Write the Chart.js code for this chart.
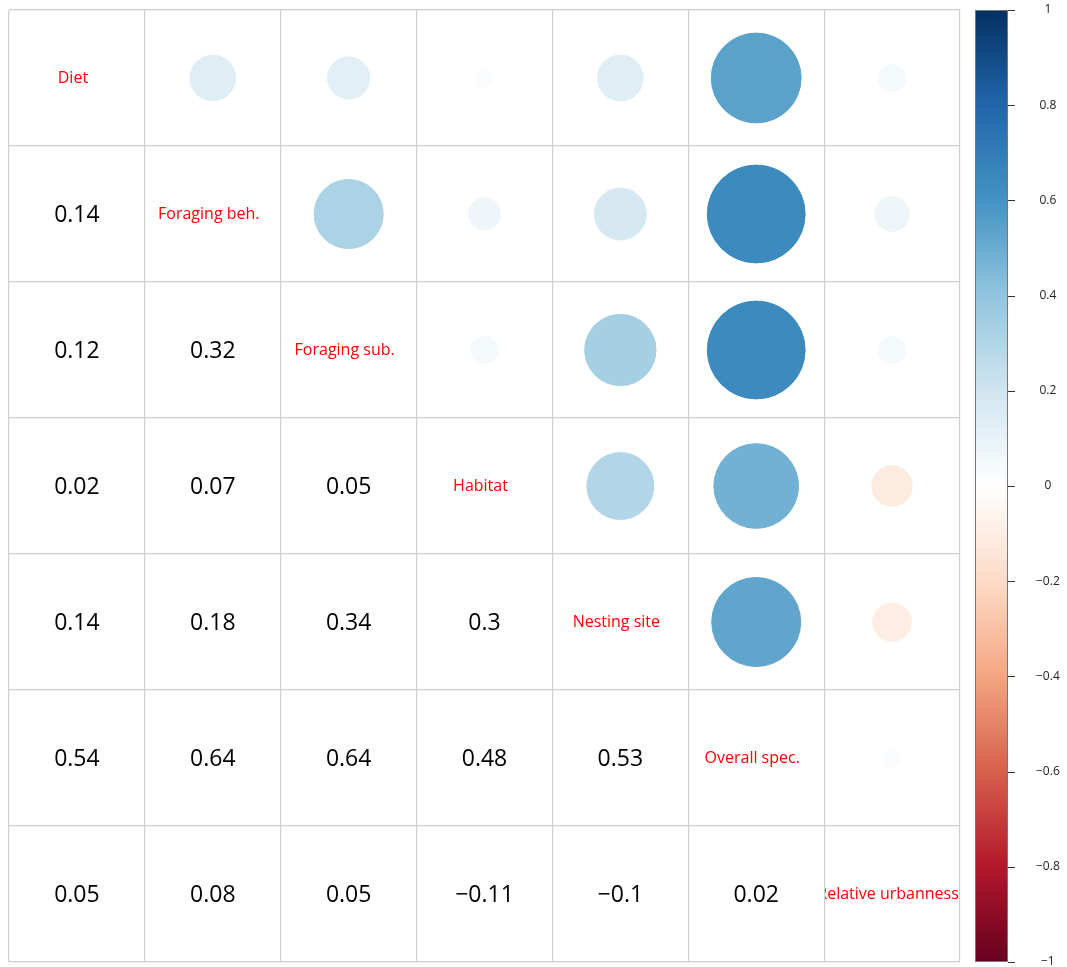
<!DOCTYPE html>
<html>
<head>
<meta charset="utf-8">
<script src="https://cdn.jsdelivr.net/npm/chart.js@4"></script>
<style>
  html, body { margin: 0; padding: 0; background: #fff; }
  #wrap { width: 1067px; height: 967px; position: relative; }
</style>
</head>
<body>
<div id="wrap"><canvas id="corrChart"></canvas></div>
<script>
// Variable names (diagonal)
const labels = ["Diet", "Foraging beh.", "Foraging sub.", "Habitat", "Nesting site", "Overall spec.", "Relative urbanness"];

// Lower triangle of the correlation matrix, row by row
const corrRows = [
  [],
  [0.14],
  [0.12, 0.32],
  [0.02, 0.07, 0.05],
  [0.14, 0.18, 0.34, 0.3],
  [0.54, 0.64, 0.64, 0.48, 0.53],
  [0.05, 0.08, 0.05, -0.11, -0.1, 0.02]
];

// Colour bar
const colorStops = ["#67001F", "#B2182B", "#D6604D", "#F4A582", "#FDDBC7", "#FFFFFF",
                    "#D1E5F0", "#92C5DE", "#4393C3", "#2166AC", "#053061"];
const barTicks = [-1, -0.8, -0.6, -0.4, -0.2, 0, 0.2, 0.4, 0.6, 0.8, 1];

const n = labels.length;

function corr(i, j) {
  if (i === j) return 1;
  return i > j ? corrRows[i][j] : corrRows[j][i];
}

function hexToRgb(h) {
  return [parseInt(h.slice(1, 3), 16), parseInt(h.slice(3, 5), 16), parseInt(h.slice(5, 7), 16)];
}

// interpolate RdBu colour for value in [-1, 1]
function colorFor(v) {
  const pos = (v + 1) / 2 * (colorStops.length - 1);
  const k = Math.min(Math.floor(pos), colorStops.length - 2);
  const t = pos - k;
  const a = hexToRgb(colorStops[k]);
  const b = hexToRgb(colorStops[k + 1]);
  const c = a.map((ch, idx) => Math.round(ch + (b[idx] - ch) * t));
  return `rgb(${c[0]},${c[1]},${c[2]})`;
}

function fmt(v) {
  return String(v).replace("-", "\u2212");
}

// circles for the upper triangle
const circles = [];
for (let i = 0; i < n; i++) {
  for (let j = i + 1; j < n; j++) {
    circles.push({ x: j + 0.5, y: i + 0.5, v: corr(i, j) });
  }
}

// numbers below the diagonal, names on it
const textPlugin = {
  id: "cellText",
  afterDatasetsDraw(chart) {
    const { ctx, scales: { x, y } } = chart;
    ctx.save();
    ctx.textAlign = "center";
    ctx.textBaseline = "middle";
    for (let i = 0; i < n; i++) {
      for (let j = 0; j <= i; j++) {
        const cx = x.getPixelForValue(j + 0.5);
        const cy = y.getPixelForValue(i + 0.5);
        if (i === j) {
          // names are clipped to their own cell, like the long last one
          const x0 = x.getPixelForValue(j), x1 = x.getPixelForValue(j + 1);
          const y0 = y.getPixelForValue(i), y1 = y.getPixelForValue(i + 1);
          ctx.save();
          ctx.beginPath();
          ctx.rect(x0 + 1, y0, x1 - x0 - 2, y1 - y0);
          ctx.clip();
          ctx.fillStyle = "#FF0000";
          ctx.font = "16px 'Open Sans', sans-serif";
          ctx.fillText(labels[i], cx - 4, cy);
          ctx.restore();
        } else {
          ctx.fillStyle = "#000";
          ctx.font = "23px 'Open Sans', sans-serif";
          ctx.fillText(fmt(corr(i, j)), cx, cy + 1);
        }
      }
    }
    ctx.restore();
  }
};

// gradient colour bar on the right
const colorBarPlugin = {
  id: "colorBar",
  afterDraw(chart) {
    const { ctx, chartArea } = chart;
    const s = chart.scales.y2;
    const top = s.getPixelForValue(1);
    const bottom = s.getPixelForValue(-1);
    const left = chartArea.right + 15;
    const right = chartArea.right + 48;
    const grad = ctx.createLinearGradient(0, top, 0, bottom);
    colorStops.forEach((c, k) => {
      grad.addColorStop(1 - k / (colorStops.length - 1), c);
    });
    ctx.save();
    ctx.fillStyle = grad;
    ctx.fillRect(left, top, right - left, bottom - top);
    ctx.strokeStyle = "#777";
    ctx.lineWidth = 1;
    ctx.strokeRect(left + 0.5, top + 0.5, right - left - 1, bottom - top - 1);
    ctx.strokeStyle = "#333";
    barTicks.forEach(t => {
      const py = Math.round(s.getPixelForValue(t)) + 0.5;
      ctx.beginPath();
      ctx.moveTo(right, py);
      ctx.lineTo(right + 7, py);
      ctx.stroke();
    });
    ctx.restore();
  }
};

function cellColor(c) {
  return c.raw ? colorFor(c.raw.v) : "#fff";
}

// circle area follows |r|
function cellRadius(c) {
  if (!c.raw) return 0;
  const xs = c.chart.scales.x;
  const cell = xs.getPixelForValue(1) - xs.getPixelForValue(0);
  return Math.sqrt(Math.abs(c.raw.v)) * cell * 0.45;
}

new Chart(document.getElementById("corrChart"), {
  type: "scatter",
  data: {
    datasets: [{
      data: circles,
      pointBackgroundColor: cellColor,
      pointBorderColor: cellColor,
      pointBorderWidth: 1,
      pointRadius: cellRadius,
      clip: false
    }]
  },
  options: {
    responsive: true,
    maintainAspectRatio: false,
    animation: false,
    events: [],
    layout: { autoPadding: false, padding: { left: 9, top: 10, right: 7, bottom: 5 } },
    plugins: { legend: { display: false }, tooltip: { enabled: false } },
    scales: {
      x: {
        type: "linear", min: 0, max: n,
        ticks: { display: false, stepSize: 1 },
        grid: { color: "#cfcfcf", lineWidth: 1.2, drawTicks: false },
        border: { display: false },
        afterFit: s => { s.height = 0; }
      },
      y: {
        type: "linear", min: 0, max: n, reverse: true,
        ticks: { display: false, stepSize: 1 },
        grid: { color: "#cfcfcf", lineWidth: 1.2, drawTicks: false },
        border: { display: false },
        afterFit: s => { s.width = 0; }
      },
      y2: {
        type: "linear", position: "right", min: -1, max: 1,
        ticks: {
          stepSize: 0.2,
          padding: 2,
          crossAlign: "center",
          color: "#222",
          font: { family: "'Open Sans', sans-serif", size: 12 },
          callback: v => fmt(Math.round(v * 10) / 10)
        },
        grid: { display: true, drawOnChartArea: false, drawTicks: true, tickLength: 74, color: "rgba(0,0,0,0)" },
        border: { display: false },
        afterFit: s => { s.width = 100; s.paddingTop = 0; s.paddingBottom = 0; }
      }
    }
  },
  plugins: [textPlugin, colorBarPlugin]
});
</script>
</body>
</html>
